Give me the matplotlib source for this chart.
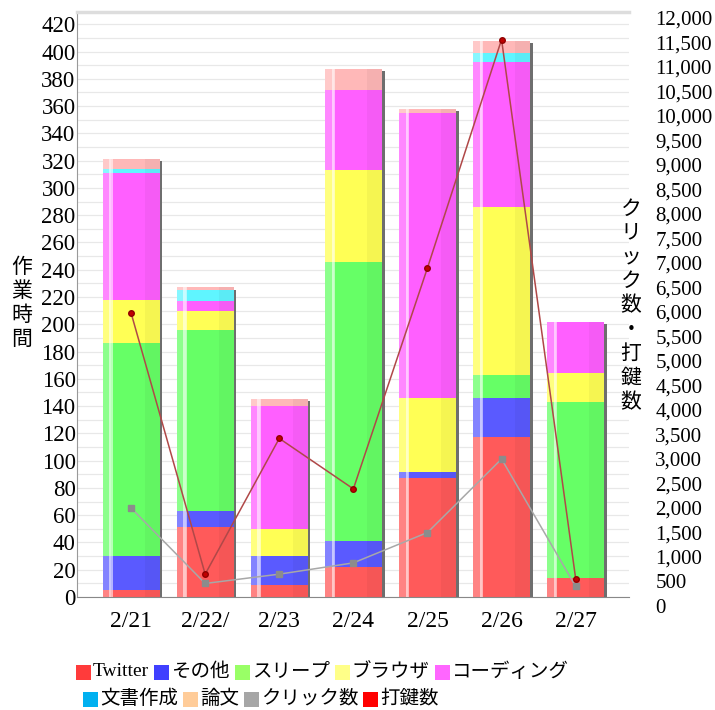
import matplotlib
matplotlib.use('Agg')
import matplotlib.pyplot as plt
from matplotlib.patches import Rectangle
from matplotlib.ticker import FuncFormatter, MultipleLocator
import numpy as np

plt.rcParams['font.family'] = ['Liberation Serif', 'Noto Sans CJK JP']

dates = ['2/21', '2/22/', '2/23', '2/24', '2/25', '2/26', '2/27']

# 作業時間 (分) の内訳
twitter = [5, 51, 9, 22, 87, 117, 14]
other = [25, 12, 21, 19, 5, 29, 0]
sleep = [156, 133, 0, 205, 0, 17, 129]
browser = [32, 14, 20, 67, 54, 123, 21]
coding = [93, 7, 90, 59, 209, 106, 38]
docs = [3, 8, 0, 0, 0, 7, 0]
paper = [7, 2, 5, 15, 3, 9, 0]

# 右軸
clicks = [2000, 460, 650, 880, 1500, 3000, 400]
keys = [5980, 650, 3420, 2390, 6900, 11560, 560]

series = [
    ('Twitter', twitter, '#ff5a5a', '#ff3b3b'),
    ('その他', other, '#5a5aff', '#4040ff'),
    ('スリープ', sleep, '#66ff66', '#99ff66'),
    ('ブラウザ', browser, '#ffff55', '#ffff88'),
    ('コーディング', coding, '#ff5fff', '#ff66ff'),
    ('文書作成', docs, '#5ff5ff', '#00b0f0'),
    ('論文', paper, '#ffb8b8', '#ffcc99'),
]

W, H = 715, 710
fig = plt.figure(figsize=(W / 100, H / 100), dpi=100)
ax = fig.add_axes([77 / W, 1 - 597 / H, (629 - 77) / W, (597 - 12) / H])

x = np.arange(len(dates))
bw = 0.77
bottom = np.zeros(len(dates))
for name, vals, c, _ in series:
    vals = np.array(vals, dtype=float)
    ax.bar(x, vals, bw, bottom=bottom, color=c, zorder=2, linewidth=0)
    bottom += vals
totals = bottom

# 立体っぽく見せるための影とハイライト
ax.bar(x + bw / 2 + 0.018, totals - 1.5, 0.036, color='#6e6e6e', zorder=1.8, linewidth=0)
ax.bar(x - bw / 2 + 0.06, totals, 0.12, color='white', alpha=0.25, zorder=3, linewidth=0)
ax.bar(x - bw / 2 + 0.115, totals, 0.05, color='white', alpha=0.55, zorder=3, linewidth=0)
ax.bar(x + bw / 2 - 0.1, totals, 0.2, color='black', alpha=0.04, zorder=3, linewidth=0)

ax.set_xlim(-0.73, len(dates) - 0.28)
ax.set_ylim(0, 429)
ax.yaxis.set_major_locator(MultipleLocator(20))
ax.yaxis.set_minor_locator(MultipleLocator(10))
ax.grid(True, which='both', axis='y', color='#e8e8e8', linewidth=0.9, zorder=0)
ax.set_axisbelow(True)
ax.set_xticks(x)
ax.set_xticklabels(dates, fontsize=17)
ax.tick_params(axis='x', length=0, pad=10)
ax.tick_params(axis='y', which='both', length=0, pad=1, labelsize=16.5)
ax.spines['right'].set_visible(False)
ax.spines['top'].set_color('#dddddd')
ax.spines['top'].set_linewidth(2.5)
ax.spines['left'].set_color('#999999')
ax.spines['bottom'].set_color('#888888')

# 右軸: クリック数・打鍵数
ax2 = fig.add_axes([77 / W, 1 - 606 / H, (629 - 77) / W, (606 - 18) / H])
ax2.patch.set_visible(False)
for s in ax2.spines.values():
    s.set_visible(False)
ax2.set_xlim(ax.get_xlim())
ax2.set_xticks([])
ax2.set_ylim(0, 12000)
ax2.yaxis.tick_right()
ax2.yaxis.set_major_locator(MultipleLocator(500))
ax2.yaxis.set_major_formatter(FuncFormatter(lambda v, p: f'{v:,.0f}'))
ax2.tick_params(axis='y', length=0, pad=19, labelsize=15)
ax2.plot(x, clicks, color='#a8a8a8', lw=1.1, marker='s', ms=4,
         mfc='#8c8c8c', mec='#8c8c8c')
ax2.plot(x, keys, color='#b04848', lw=1.1, marker='o', ms=4,
         mfc='#c00000', mec='#900000')

# 縦書きの軸ラベル
for i, ch in enumerate('作業時間'):
    fig.text(22 / W, 1 - (268 + 24.3 * i) / H, ch, ha='center', va='center', fontsize=15)
for i, ch in enumerate('クリック数・打鍵数'):
    fig.text(631 / W, 1 - (210 + 24.2 * i) / H, ch, ha='center', va='center', fontsize=15)

# 凡例 (横に流す)
renderer = fig.canvas.get_renderer()
legend_rows = [
    (76, 672, [(s[0], s[3]) for s in series[:5]]),
    (83, 699, [(s[0], s[3]) for s in series[5:]] + [('クリック数', '#a6a6a6'), ('打鍵数', '#ff0000')]),
]
for x0, y0, items in legend_rows:
    px = x0
    for label, color in items:
        fig.add_artist(Rectangle((px / W, (H - y0 - 7.5) / H), 15 / W, 15 / H,
                                 transform=fig.transFigure, color=color, linewidth=0))
        t = fig.text((px + 17) / W, 1 - y0 / H, label, ha='left', va='center', fontsize=14)
        bb = t.get_window_extent(renderer)
        px = bb.x1 + 5

fig.savefig('out.png', dpi=100)
